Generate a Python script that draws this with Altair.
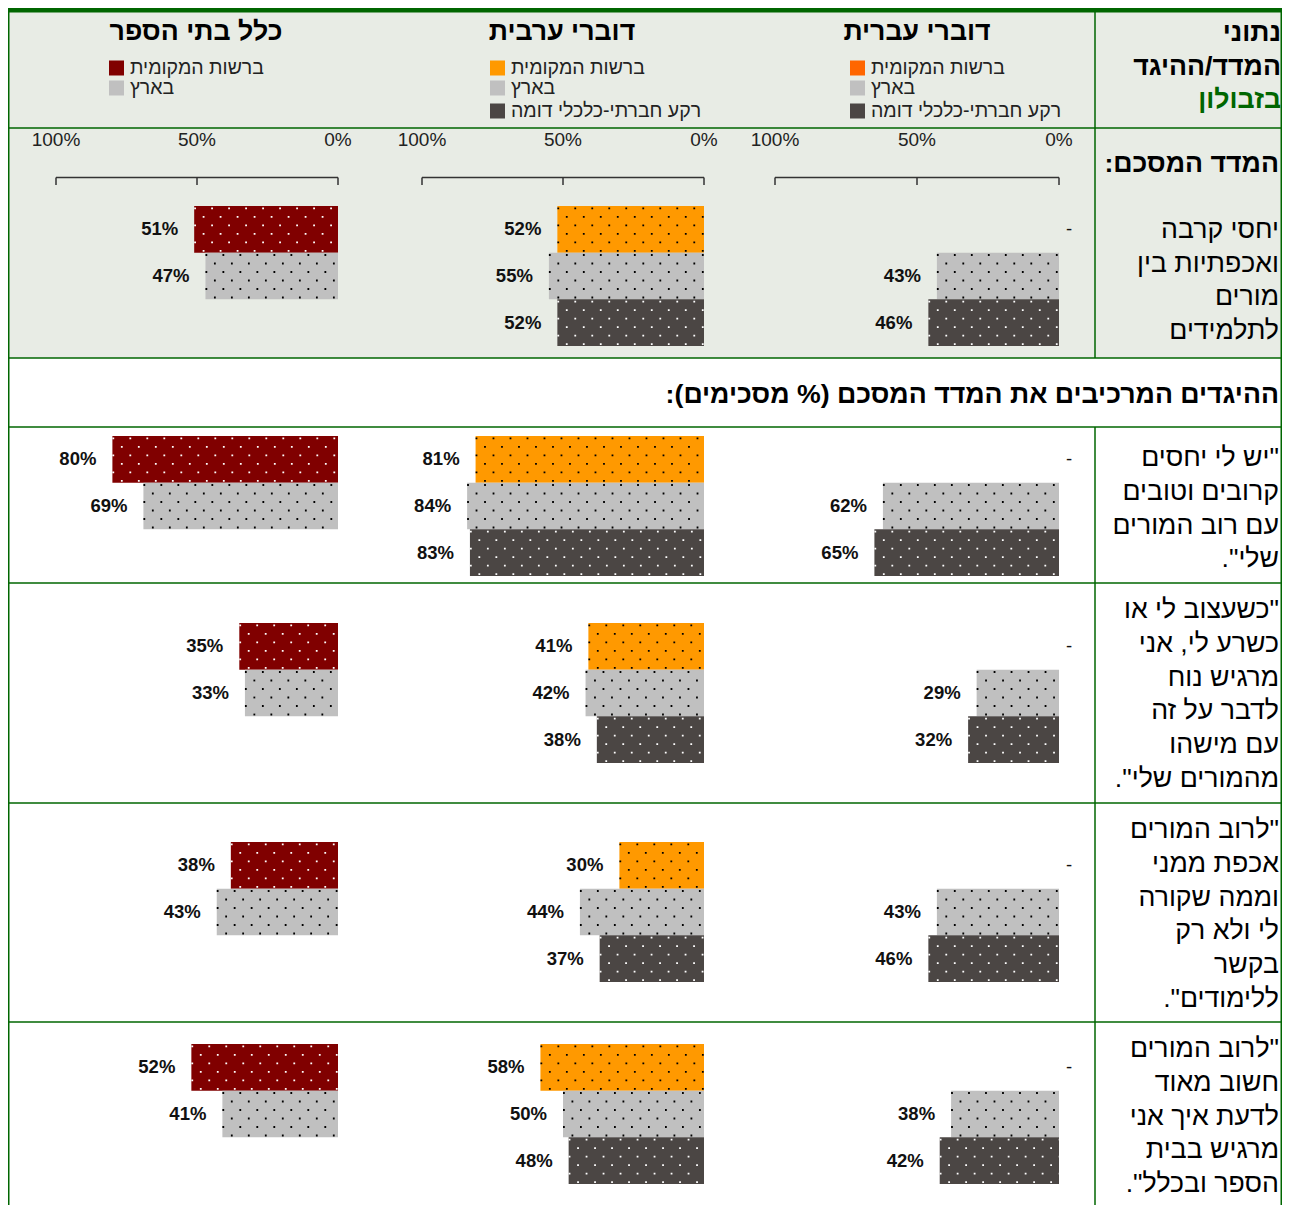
import altair as alt
import pandas as pd

RLM = "\u200f"
FONT = "Liberation Sans"
W, H = 1274, 1197

# ---------------- data ----------------
col_titles = ["כלל בתי הספר", "דוברי ערבית", "דוברי עברית"]
series = ["local", "national", "similar"]
series_names = {"local": "ברשות המקומית", "national": "בארץ", "similar": "רקע חברתי-כלכלי דומה"}

# rows: summary index + 4 statements
all_local = [51, 80, 35, 38, 52]
all_national = [47, 69, 33, 43, 41]
ar_local = [52, 81, 41, 30, 58]
ar_national = [55, 84, 42, 44, 50]
ar_similar = [52, 83, 38, 37, 48]
he_local = [None, None, None, None, None]  # shown as "-"
he_national = [43, 62, 29, 43, 38]
he_similar = [46, 65, 32, 46, 42]

col_series = [
    {"local": all_local, "national": all_national},
    {"local": ar_local, "national": ar_national, "similar": ar_similar},
    {"local": he_local, "national": he_national, "similar": he_similar},
]

header_lines = ["נתוני", "המדד/ההיגד", "בזבולון"]
index_title = "המדד המסכם:"
index_lines = ["יחסי קרבה", "ואכפתיות בין", "מורים", "לתלמידים"]
section_title = "ההיגדים המרכיבים את המדד המסכם (% מסכימים):"
statements = [
    ['"יש לי יחסים', "קרובים וטובים", "עם רוב המורים", 'שלי".'],
    ['"כשעצוב לי או', "כשרע לי, אני", "מרגיש נוח", "לדבר על זה", "עם מישהו", 'מהמורים שלי".'],
    ['"לרוב המורים', "אכפת ממני", "וממה שקורה", "לי ולא רק", "בקשר", 'ללימודים".'],
    ['"לרוב המורים', "חשוב מאוד", "לדעת איך אני", "מרגיש בבית", 'הספר ובכלל".'],
]
axis_ticks = [0, 50, 100]

# ---------------- styles / layout ----------------
GREEN = "#006600"
BG = "#E8ECE5"
local_colors = ["#800000", "#FF9900", "#FF6600"]
local_dots = ["white", "black", "white"]
fills = {"national": "#C0C0C0", "similar": "#4B4644"}
dots = {"national": "black", "similar": "white"}

BIG = 26.7
LEG = 19.5

x_zero = [330, 696, 1051]
x_full = [48, 414, 767]
band_top = [198, 428, 615, 834, 1036]
GROUP_H = 140

one = pd.DataFrame({"_": [0]})


def rtl(s):
    return RLM + s + RLM


def txt(s, x, y, size, weight="normal", align="right", color="#000000"):
    return alt.Chart(one).mark_text(
        text=rtl(s), fontSize=size, fontWeight=weight, align=align,
        baseline="middle", font=FONT, color=color,
    ).encode(x=alt.value(x), y=alt.value(y))


def hrule(y, x1=0, x2=W, color=GREEN, w=1.5):
    return alt.Chart(one).mark_rule(color=color, strokeWidth=w).encode(
        x=alt.value(x1), x2=alt.value(x2), y=alt.value(y))


def vrule(x, y1, y2, color=GREEN, w=1.5):
    return alt.Chart(one).mark_rule(color=color, strokeWidth=w).encode(
        x=alt.value(x), y=alt.value(y1), y2=alt.value(y2))


def rect(x1, x2, y1, y2, color):
    return alt.Chart(one).mark_rect(color=color).encode(
        x=alt.value(x1), x2=alt.value(x2), y=alt.value(y1), y2=alt.value(y2))


def cell(ci, ri):
    xs = alt.Scale(domain=[0, 100], range=[x_zero[ci], x_full[ci]])
    ys = alt.Scale(domain=series, range=[band_top[ri], band_top[ri] + GROUP_H],
                   paddingInner=0, paddingOuter=0)
    recs = []
    for s, arr in col_series[ci].items():
        v = arr[ri]
        recs.append({
            "s": s,
            "v": 0 if v is None else v,
            "z": 0,
            "miss": v is None,
            "lbl": "-" if v is None else f"{v}%",
            "fc": local_colors[ci] if s == "local" else fills[s],
            "dc": local_dots[ci] if s == "local" else dots[s],
        })
    df = pd.DataFrame(recs)
    dv = df[~df["miss"]].drop(columns=["miss"])
    dm = df[df["miss"]].drop(columns=["miss"])
    X = alt.X("v:Q", scale=xs, axis=None)
    Y = alt.Y("s:N", scale=ys, axis=None)
    layers = [
        alt.Chart(dv).mark_bar(strokeWidth=0).encode(
            x=X, x2="z:Q", y=Y, color=alt.Color("fc:N", scale=None))
    ]
    for k in range(6):
        layers.append(
            alt.Chart(dv).mark_rule(
                strokeWidth=1.8, strokeDash=[1.8, 15.2],
                strokeDashOffset=(8.5 if k % 2 else 0),
                yOffset=-21 + 8.5 * k,
            ).encode(x=X, x2="z:Q", y=Y, color=alt.Color("dc:N", scale=None))
        )
    layers.append(
        alt.Chart(dv).mark_text(
            align="right", dx=-16, baseline="middle", fontSize=18.5,
            fontWeight="bold", font=FONT, color="#111111",
        ).encode(x=X, y=Y, text="lbl:N")
    )
    if len(dm):
        layers.append(
            alt.Chart(dm).mark_text(
                align="center", dx=10, baseline="middle", fontSize=18.5,
                font=FONT, color="#111111",
            ).encode(x=X, y=Y, text="lbl:N")
        )
    if ri == 0:
        tdf = pd.DataFrame({"t": axis_ticks, "lab": [f"{t}%" for t in axis_ticks]})
        ldf = pd.DataFrame({"a": [0], "b": [100]})
        layers.append(
            alt.Chart(ldf).mark_rule(color="#333333", strokeWidth=1.5).encode(
                x=alt.X("a:Q", scale=xs, axis=None), x2="b:Q", y=alt.value(169.5))
        )
        layers.append(
            alt.Chart(tdf).mark_rule(color="#333333", strokeWidth=1.5).encode(
                x=alt.X("t:Q", scale=xs, axis=None), y=alt.value(169.5), y2=alt.value(177))
        )
        layers.append(
            alt.Chart(tdf).mark_text(
                fontSize=19, font=FONT, color="#222222", align="center", baseline="middle"
            ).encode(x=alt.X("t:Q", scale=xs, axis=None), y=alt.value(132), text="lab:N")
        )
    return alt.layer(*layers)


layers = []
# backgrounds
layers.append(rect(0, W, 4, 350, BG))
layers.append(rect(0, W, 0, 4.5, GREEN))
# borders
for yb in [120, 350, 419, 575, 795, 1014]:
    layers.append(hrule(yb))
layers.append(vrule(0.75, 0, H))
layers.append(vrule(W - 0.75, 0, H))
layers.append(vrule(1087, 4, 350))
layers.append(vrule(1087, 419, H))

# column headers and legends
head_cx = [188, 554, 909]
sw_left = [101, 482, 842]
leg_y = [60, 80, 103]
for ci, title in enumerate(col_titles):
    layers.append(txt(title, head_cx[ci], 24, BIG, "bold", "center"))
    for li, s in enumerate(col_series[ci].keys()):
        c = local_colors[ci] if s == "local" else fills[s]
        layers.append(rect(sw_left[ci], sw_left[ci] + 15, leg_y[li] - 7.5, leg_y[li] + 7.5, c))
        layers.append(txt(series_names[s], sw_left[ci] + 21, leg_y[li], LEG, "normal", "left", "#222222"))

# right column text
TX = 1271
for i, s in enumerate(header_lines):
    layers.append(txt(s, TX + 2, 25 + 33.5 * i, BIG, "bold", "right", GREEN if i == 2 else "#000000"))
layers.append(txt(index_title, TX, 156, BIG, "bold"))
for i, s in enumerate(index_lines):
    layers.append(txt(s, TX, 222 + 33.5 * i, BIG))
layers.append(txt(section_title, TX, 387, BIG, "bold"))
first_line = [450, 602, 822, 1041]
for ri, lines in enumerate(statements):
    for i, s in enumerate(lines):
        layers.append(txt(s, TX, first_line[ri] + 33.8 * i, BIG))

# bar cells
for ri in range(5):
    for ci in range(3):
        layers.append(cell(ci, ri))

chart = alt.layer(*layers).resolve_scale(
    x="independent", y="independent"
).properties(
    width=W, height=H, padding=0,
    autosize=alt.AutoSizeParams(type="none"),
).configure_view(strokeWidth=0)

chart.save("out.html", embed_options={"renderer": "svg", "actions": False})
